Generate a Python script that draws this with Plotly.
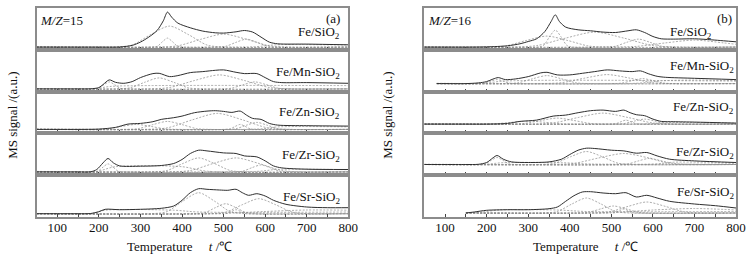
import plotly.graph_objects as go

# ---------------- data ----------------
tick_positions = [100, 200, 300, 400, 500, 600, 700, 800]
tick_labels = ['100', '200', '300', '400', '500', '600', '700', '800']

# ---- (a) M/Z = 15 ----
a1_T = [50, 100, 150, 200, 250, 280, 300, 320, 340, 355, 365, 375, 390, 420, 450, 480, 500, 530, 550, 570, 590, 610, 630, 700, 800]
a1_sig = [2.7, 2.7, 2.7, 2.7, 2.8, 4.4, 7.7, 12.7, 19.3, 29, 37.7, 32.7, 26.7, 22, 18.7, 17, 16.7, 18, 19.3, 17.7, 12.7, 7.7, 6, 5.7, 5]
a1_fits = [
    ([50, 235, 280, 325, 370, 415, 460, 505, 800], [2.7, 2.7, 4.8, 15.3, 23.7, 15.3, 4.8, 2.7, 2.7]),
    ([50, 329, 341, 353, 365, 377, 389, 401, 800], [2.7, 2.7, 3.6, 8.1, 11.7, 8.1, 3.6, 2.7, 2.7]),
    ([50, 335, 390, 445, 500, 555, 610, 665, 800], [2.7, 2.7, 4.0, 10.5, 15.7, 10.5, 4.0, 2.7, 2.7]),
    ([50, 480, 505, 530, 555, 580, 605, 630, 800], [2.7, 2.7, 3.5, 7.5, 10.7, 7.5, 3.5, 2.7, 2.7]),
    ([50, 580, 610, 640, 800], [3.2, 3.2, 4.5, 5.2, 4.8]),
]

a2_T = [50, 100, 150, 180, 200, 210, 225, 240, 260, 280, 300, 330, 345, 370, 390, 420, 450, 480, 500, 530, 550, 580, 600, 620, 640, 700, 800]
a2_sig = [2.7, 2.7, 2.7, 2.8, 4, 7, 11.7, 9.3, 8.3, 10, 14, 18, 18.3, 15, 16, 19, 20, 21.3, 21.7, 19.3, 18, 18, 14, 10, 9, 9, 8.3]
a2_fits = [
    ([50, 190, 215, 240, 800], [2.7, 2.7, 4.5, 5.5, 6]),
    ([50, 186, 199, 212, 225, 238, 251, 264, 800], [2.7, 2.7, 3.4, 6.9, 9.7, 6.9, 3.4, 2.7, 2.7]),
    ([50, 240, 275, 310, 345, 380, 415, 450, 800], [2.7, 2.7, 3.8, 9.3, 13.7, 9.3, 3.8, 2.7, 2.7]),
    ([50, 310, 370, 430, 490, 550, 610, 670, 800], [2.7, 2.7, 4.1, 11.1, 16.7, 11.1, 4.1, 2.7, 2.7]),
    ([50, 491, 519, 547, 575, 603, 631, 659, 800], [2.7, 2.7, 3.4, 6.9, 9.7, 6.9, 3.4, 2.7, 2.7]),
]

a3_T = [50, 100, 150, 200, 240, 270, 300, 330, 350, 380, 400, 430, 460, 480, 500, 520, 540, 555, 570, 590, 610, 630, 700, 800]
a3_sig = [4, 4, 4, 4.3, 6, 9.3, 10, 11.7, 14, 15.7, 17.3, 20.7, 22.3, 22.7, 22, 21, 22.3, 18.3, 15, 14, 10, 8.3, 7.7, 7.3]
a3_fits = [
    ([50, 185, 220, 255, 290, 325, 360, 395, 800], [4, 4, 4.5, 7, 9, 7, 4.5, 4, 4]),
    ([50, 260, 295, 330, 365, 400, 435, 470, 800], [4, 4, 4.8, 8.8, 12, 8.8, 4.8, 4, 4]),
    ([50, 305, 365, 425, 485, 545, 605, 665, 800], [4, 4, 5.6, 13.6, 20, 13.6, 5.6, 4, 4]),
    ([50, 504, 516, 528, 540, 552, 564, 576, 800], [4, 4, 4.5, 7, 9, 7, 4.5, 4, 4]),
    ([50, 505, 530, 555, 580, 605, 630, 655, 800], [4, 4, 4.7, 8.2, 11, 8.2, 4.7, 4, 4]),
    ([50, 590, 630, 800], [4.5, 4.5, 6.5, 6.5]),
]

a4_T = [50, 100, 150, 180, 195, 210, 222, 235, 250, 300, 350, 380, 400, 420, 440, 460, 500, 530, 550, 580, 600, 620, 640, 700, 800]
a4_sig = [3.3, 3.3, 3.3, 3.4, 5.7, 12.3, 16.7, 12.3, 9.3, 9, 9.7, 11.7, 15.7, 21.7, 25, 24.3, 22.3, 21.7, 19.3, 18.3, 14.3, 9.3, 7.3, 6, 5.7]
a4_fits = [
    ([50, 190, 240, 400, 460, 800], [3.3, 3.3, 8.5, 8.5, 4, 3.3]),
    ([50, 186, 198, 210, 222, 234, 246, 258, 800], [3.3, 3.3, 4.1, 8.1, 11.3, 8.1, 4.1, 3.3, 3.3]),
    ([50, 326, 364, 402, 440, 478, 516, 554, 800], [3.3, 3.3, 4.7, 11.7, 17.3, 11.7, 4.7, 3.3, 3.3]),
    ([50, 365, 420, 475, 530, 585, 640, 695, 800], [3.3, 3.3, 4.7, 11.7, 17.3, 11.7, 4.7, 3.3, 3.3]),
    ([50, 524, 546, 568, 590, 612, 634, 656, 800], [3.3, 3.3, 4, 7.5, 10.3, 7.5, 4, 3.3, 3.3]),
    ([50, 580, 630, 800], [3.8, 3.8, 5.8, 5.5]),
]

a5_T = [50, 100, 150, 180, 200, 215, 250, 300, 350, 380, 400, 420, 440, 460, 490, 510, 530, 545, 560, 580, 600, 620, 650, 700, 750, 800]
a5_sig = [3.3, 3.3, 3.3, 3.5, 5.3, 7.7, 7.3, 7.7, 8.7, 11, 16.7, 24.3, 28.3, 27.7, 27, 26.7, 27.7, 24.3, 21.7, 23.3, 21, 16.7, 12.7, 10, 9.3, 9.3]
a5_fits = [
    ([50, 180, 215, 380, 440, 800], [3.3, 3.3, 6.8, 6.8, 5, 5]),
    ([50, 326, 364, 402, 440, 478, 516, 554, 800], [3.3, 3.3, 5.4, 15.9, 24.3, 15.9, 5.4, 3.3, 3.3]),
    ([50, 430, 455, 480, 505, 530, 555, 580, 800], [3.3, 3.3, 4.3, 9.3, 13.3, 9.3, 4.3, 3.3, 3.3]),
    ([50, 500, 510, 520, 530, 540, 550, 560, 800], [3.3, 3.3, 3.7, 5.7, 7.3, 5.7, 3.7, 3.3, 3.3]),
    ([50, 465, 505, 545, 585, 625, 665, 705, 800], [3.3, 3.3, 4.8, 12.3, 18.3, 12.3, 4.8, 3.3, 3.3]),
    ([50, 500, 600, 700, 800], [3.3, 3.6, 5.5, 7, 6.8]),
]

# ---- (b) M/Z = 16 ----
b1_T = [50, 100, 150, 200, 250, 280, 300, 320, 340, 355, 365, 375, 390, 420, 450, 480, 510, 540, 560, 580, 600, 620, 650, 700, 740, 770, 800]
b1_sig = [2.7, 2.7, 2.7, 2.9, 4, 6, 8.3, 11, 18.3, 28.3, 35, 28.3, 22.7, 20, 19, 17.7, 17.3, 19, 20, 17.3, 13.3, 11, 10.7, 11, 10, 9, 8]
b1_fits = [
    ([50, 195, 245, 295, 345, 395, 445, 495, 800], [2.7, 2.7, 3.8, 9.3, 13.7, 9.3, 3.8, 2.7, 2.7]),
    ([50, 323, 337, 351, 365, 379, 393, 407, 800], [2.7, 2.7, 4.4, 12.9, 19.7, 12.9, 4.4, 2.7, 2.7]),
    ([50, 250, 320, 390, 460, 530, 600, 670, 800], [2.7, 2.7, 4.2, 11.7, 17.7, 11.7, 4.2, 2.7, 2.7]),
    ([50, 481, 509, 537, 565, 593, 621, 649, 800], [2.7, 2.7, 3.5, 7.5, 10.7, 7.5, 3.5, 2.7, 2.7]),
    ([50, 490, 560, 630, 700, 770, 800], [2.7, 2.7, 3.4, 6.9, 9.7, 6.9, 5.5]),
]

b2_T = [80, 100, 150, 180, 200, 215, 228, 245, 270, 300, 330, 345, 370, 400, 430, 460, 490, 520, 550, 570, 590, 610, 630, 700, 800]
b2_sig = [8, 8, 8, 8.7, 10, 12.5, 14, 12, 12.7, 15, 18.7, 19.3, 16.7, 16.7, 18.3, 20, 21.7, 20.7, 20, 20.7, 17.7, 15.3, 14.3, 13.3, 12]
b2_fits = [
    ([80, 190, 240, 800], [8, 8, 10.5, 10.5]),
    ([80, 180, 195, 210, 225, 240, 255, 270, 800], [8, 8, 8.4, 10.4, 12, 10.4, 8.4, 8, 8]),
    ([80, 240, 275, 310, 345, 380, 415, 450, 800], [8, 8, 8.8, 12.8, 16, 12.8, 8.8, 8, 8]),
    ([80, 325, 380, 435, 490, 545, 600, 655, 800], [8, 8, 8.9, 13.4, 17, 13.4, 8.9, 8, 8]),
    ([80, 500, 525, 550, 575, 600, 625, 650, 800], [8, 8, 8.5, 11, 13, 11, 8.5, 8, 8]),
    ([80, 560, 620, 700, 800], [8.3, 8.3, 10.8, 11.5, 11]),
]

b3_T = [50, 100, 150, 200, 250, 280, 320, 360, 390, 420, 450, 480, 510, 530, 545, 560, 580, 600, 620, 650, 700, 800]
b3_sig = [9.3, 9.3, 9.3, 9.3, 10, 12, 13.3, 17.3, 18.3, 20.7, 22.7, 23.3, 22, 23.3, 20.7, 18.7, 17.7, 14.3, 12, 11.7, 11.3, 10.3]
b3_fits = [
    ([50, 180, 220, 260, 300, 340, 380, 420, 800], [9.3, 9.3, 9.6, 11.1, 12.3, 11.1, 9.6, 9.3, 9.3]),
    ([50, 250, 290, 330, 370, 410, 450, 490, 800], [9.3, 9.3, 9.9, 12.9, 15.3, 12.9, 9.9, 9.3, 9.3]),
    ([50, 300, 360, 420, 480, 540, 600, 660, 800], [9.3, 9.3, 10.4, 15.9, 20.3, 15.9, 10.4, 9.3, 9.3]),
    ([50, 499, 511, 523, 535, 547, 559, 571, 800], [9.3, 9.3, 9.7, 11.7, 13.3, 11.7, 9.7, 9.3, 9.3]),
    ([50, 505, 530, 555, 580, 605, 630, 655, 800], [9.3, 9.3, 9.8, 12.3, 14.3, 12.3, 9.8, 9.3, 9.3]),
    ([50, 590, 630, 800], [9.6, 9.6, 10.8, 10.3]),
]

b4_T = [50, 100, 150, 180, 200, 215, 225, 240, 260, 300, 350, 380, 400, 420, 440, 460, 500, 530, 560, 585, 610, 640, 700, 800]
b4_sig = [10.7, 10.7, 10.7, 10.9, 12.7, 17.3, 19.7, 16, 13.3, 12.7, 13.3, 16, 20.7, 25, 27, 26.7, 25, 24.3, 22, 22.7, 19.3, 16, 14.3, 12.7]
b4_fits = [
    ([50, 190, 240, 380, 450, 800], [10.7, 10.7, 12.5, 12.5, 11.2, 11.2]),
    ([50, 183, 197, 211, 225, 239, 253, 267, 800], [10.7, 10.7, 11.4, 14.9, 17.7, 14.9, 11.4, 10.7, 10.7]),
    ([50, 326, 364, 402, 440, 478, 516, 554, 800], [10.7, 10.7, 12, 18.5, 23.7, 18.5, 12, 10.7, 10.7]),
    ([50, 350, 410, 470, 530, 590, 650, 710, 800], [10.7, 10.7, 11.8, 17.3, 21.7, 17.3, 11.8, 10.7, 10.7]),
    ([50, 515, 540, 565, 590, 615, 640, 665, 800], [10.7, 10.7, 11.3, 14.3, 16.7, 14.3, 11.3, 10.7, 10.7]),
    ([50, 600, 650, 800], [11, 11, 13, 12.2]),
]

b5_T = [150, 170, 200, 250, 300, 350, 370, 390, 410, 430, 450, 480, 510, 535, 560, 585, 610, 640, 700, 750, 800]
b5_sig = [4, 5, 6.7, 7.3, 7.3, 8.3, 10, 15.7, 21.3, 25, 25.3, 24, 23.3, 24.3, 20, 21.7, 19, 15.7, 13, 11.3, 9]
b5_fits = [
    ([150, 190, 230, 370, 440, 800], [4, 5, 7, 7, 5.5, 5.5]),
    ([150, 335, 370, 405, 440, 475, 510, 545, 800], [4, 4, 5.5, 13, 19, 13, 5.5, 4, 4]),
    ([150, 415, 445, 475, 505, 535, 565, 595, 800], [4, 4, 4.7, 8.2, 11, 8.2, 4.7, 4, 4]),
    ([150, 500, 510, 520, 530, 540, 550, 560, 800], [4, 4, 4.4, 6.4, 8, 6.4, 4.4, 4, 4]),
    ([150, 450, 495, 540, 585, 630, 675, 720, 800], [4, 4, 5.1, 10.6, 15, 10.6, 5.1, 4, 4]),
    ([150, 500, 600, 700, 800], [4.2, 4.5, 7, 8.5, 7]),
]

sample_labels = ['Fe/SiO<sub>2</sub>', 'Fe/Mn-SiO<sub>2</sub>', 'Fe/Zn-SiO<sub>2</sub>',
                 'Fe/Zr-SiO<sub>2</sub>', 'Fe/Sr-SiO<sub>2</sub>']

# ---------------- layout constants ----------------
W, H = 755, 258
PLOT_TOP, PLOT_BOT = 8, 217
PH = (PLOT_BOT - PLOT_TOP) / 5.0
COLS = [(37, 353), (430, 746)]
FONT = 'Liberation Serif'
BORDER = '#8c8c8c'

panels = [
    (0, 0, a1_T, a1_sig, a1_fits), (0, 1, a2_T, a2_sig, a2_fits), (0, 2, a3_T, a3_sig, a3_fits),
    (0, 3, a4_T, a4_sig, a4_fits), (0, 4, a5_T, a5_sig, a5_fits),
    (1, 0, b1_T, b1_sig, b1_fits), (1, 1, b2_T, b2_sig, b2_fits), (1, 2, b3_T, b3_sig, b3_fits),
    (1, 3, b4_T, b4_sig, b4_fits), (1, 4, b5_T, b5_sig, b5_fits),
]
label_y = [[32, 72, 112, 155, 197], [32, 66, 107, 152, 192]]
label_x = [[347, 347, 347, 347, 347], [724, 746, 746, 746, 746]]

fig = go.Figure()
layout = dict(width=W, height=H, autosize=False, margin=dict(l=0, r=0, t=0, b=0),
              paper_bgcolor='white', plot_bgcolor='white', showlegend=False,
              font=dict(family=FONT, color='#111'))

def px_x(x):
    return x / W

def px_y(y):
    return 1 - y / H

annotations = []
for k, (col, row, T, S, fits) in enumerate(panels, start=1):
    key = '' if k == 1 else str(k)
    xa, ya = 'x' + key, 'y' + key
    for fx, fy in fits:
        fig.add_trace(go.Scatter(x=fx, y=fy, mode='lines', xaxis=xa, yaxis=ya, hoverinfo='skip',
                                 line=dict(color='#8a8a8a', width=0.7, dash='2px,1.5px',
                                           shape='spline', smoothing=0.8)))
    fig.add_trace(go.Scatter(x=T, y=S, mode='lines', xaxis=xa, yaxis=ya, hoverinfo='skip',
                             line=dict(color='#2e2e2e', width=1, shape='spline', smoothing=0.8)))
    top = PLOT_TOP + row * PH
    x0, x1 = COLS[col]
    layout['xaxis' + key] = dict(
        domain=[px_x(x0), px_x(x1)], anchor=ya, range=[50, 800],
        tickvals=tick_positions, ticktext=tick_labels, showticklabels=(row == 4),
        ticks='inside', ticklen=3, tickwidth=1, tickcolor='#444', ticklabelstandoff=-3,
        minor=dict(ticks='inside', ticklen=3, dtick=50, tick0=50, tickcolor='#444', showgrid=False),
        showline=True, linecolor=BORDER, linewidth=2, mirror=True,
        showgrid=False, zeroline=False,
        tickfont=dict(family=FONT, size=13, color='#111'))
    layout['yaxis' + key] = dict(
        domain=[px_y(top + PH), px_y(top)], anchor=xa, range=[0, PH],
        showticklabels=False, ticks='', showline=True, linecolor=BORDER, linewidth=2,
        mirror=True, showgrid=False, zeroline=False)
    annotations.append(dict(text=sample_labels[row], x=px_x(label_x[col][row]), y=px_y(label_y[col][row]),
                            xref='paper', yref='paper', xanchor='right', yanchor='middle',
                            showarrow=False, font=dict(family=FONT, size=13, color='#111')))

annotations += [
    dict(text='<i>M/Z</i>=15', x=px_x(39), y=px_y(20), xanchor='left'),
    dict(text='<i>M/Z</i>=16', x=px_x(432), y=px_y(20), xanchor='left'),
    dict(text='(a)', x=px_x(347), y=px_y(18), xanchor='right'),
    dict(text='(b)', x=px_x(725), y=px_y(18), xanchor='left'),
    dict(text='MS signal /(a.u.)', x=px_x(12), y=px_y(115), textangle=-90, xanchor='center'),
    dict(text='MS signal /(a.u.)', x=px_x(392), y=px_y(115), textangle=-90, xanchor='center'),
    dict(text='Temperature\u00a0\u00a0\u00a0\u00a0\u00a0<i>t</i> /\u2103', x=px_x(182), y=px_y(246), xanchor='center'),
    dict(text='Temperature\u00a0\u00a0\u00a0\u00a0\u00a0<i>t</i> /\u2103', x=px_x(593), y=px_y(246), xanchor='center'),
]
for a in annotations[10:]:
    a.update(xref='paper', yref='paper', yanchor='middle', showarrow=False,
             font=dict(family=FONT, size=13, color='#111'))

layout['annotations'] = annotations
fig.update_layout(**layout)
fig.write_html('out.html', config={'displayModeBar': False, 'staticPlot': True},
               post_script="document.body.style.margin='0';document.body.style.padding='0';"
                           "document.body.style.overflow='hidden';")
